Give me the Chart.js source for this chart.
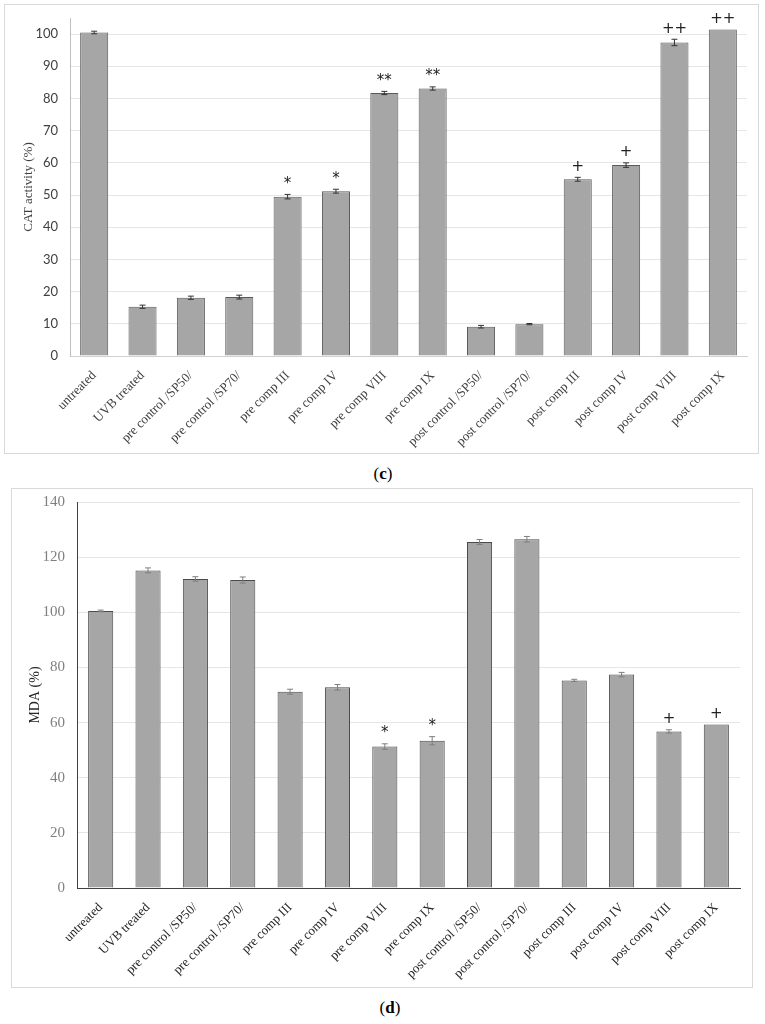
<!DOCTYPE html>
<html>
<head>
<meta charset="utf-8">
<script src="https://cdn.jsdelivr.net/npm/chart.js@4.4.0/dist/chart.umd.min.js"></script>
<style>
  body { margin: 0; background: #fff; width: 765px; height: 1024px; position: relative; }
  .panel { position: absolute; border: 1px solid #D9D9D9; box-sizing: border-box; }
  .panel canvas { position: absolute; left: 0; top: 0; }
  .cap { position: absolute; font-family: "Liberation Serif", "Times New Roman", serif; font-size: 17px; color: #000; transform: translateX(-50%); }
</style>
</head>
<body>
<div class="panel" style="left:4px; top:4px; width:755px; height:450px;">
  <canvas id="cat" width="753" height="448" style="width:753px;height:448px"></canvas>
</div>
<div class="cap" style="left:383px; top:464px;">(<b>c</b>)</div>
<div class="panel" style="left:11px; top:488px; width:742px; height:500px;">
  <canvas id="mda" width="740" height="498" style="width:740px;height:498px"></canvas>
</div>
<div class="cap" style="left:390px; top:998px;">(<b>d</b>)</div>
<script>
const categories = [
  "untreated", "UVB treated", "pre control /SP50/", "pre control /SP70/",
  "pre comp III", "pre comp IV", "pre comp VIII", "pre comp IX",
  "post control /SP50/", "post control /SP70/", "post comp III", "post comp IV",
  "post comp VIII", "post comp IX"
];

// CAT activity (%)
const catValues = [100.5, 15.3, 18.1, 18.3, 49.5, 51.2, 81.7, 83.1, 9.1, 9.9, 54.9, 59.3, 97.4, 101.4];
const catErrors = [0.4, 0.5, 0.5, 0.6, 0.7, 0.6, 0.5, 0.5, 0.4, 0.2, 0.6, 0.7, 1.0, 0];
const catMarks = ["", "", "", "", "*", "*", "**", "**", "", "", "+", "+", "++", "++"];

// MDA (%)
const mdaValues = [100.5, 115.2, 112.1, 111.7, 71.2, 72.8, 51.3, 53.4, 125.5, 126.5, 75.3, 77.4, 56.8, 59.3];
const mdaErrors = [0.3, 0.9, 0.8, 1.1, 0.9, 1.0, 1.0, 1.5, 0.9, 1.0, 0.4, 0.8, 0.6, 0];
const mdaMarks = ["", "", "", "", "", "", "*", "*", "", "", "", "", "+", "+"];

const serif = "'Liberation Serif', 'Times New Roman', serif";

// error bars + significance marks
const errorBars = {
  id: "errorBars",
  afterDatasetsDraw(chart, args, opts) {
    const ctx = chart.ctx;
    const meta = chart.getDatasetMeta(0);
    const y = chart.scales.y;
    ctx.save();
    meta.data.forEach((bar, i) => {
      const v = opts.values[i], e = opts.errors[i];
      const top = y.getPixelForValue(v + e);
      if (e > 0) {
        const bot = y.getPixelForValue(v - e);
        ctx.strokeStyle = opts.color;
        ctx.lineWidth = 1;
        ctx.beginPath();
        ctx.moveTo(bar.x, top); ctx.lineTo(bar.x, bot);
        ctx.moveTo(bar.x - 3, top); ctx.lineTo(bar.x + 3, top);
        ctx.moveTo(bar.x - 3, bot); ctx.lineTo(bar.x + 3, bot);
        ctx.stroke();
      }
      if (opts.marks[i]) {
        ctx.fillStyle = "#222";
        ctx.font = opts.markFont;
        ctx.textAlign = "center";
        ctx.textBaseline = "bottom";
        ctx.fillText(opts.marks[i], bar.x, Math.min(top, y.getPixelForValue(v)) - 3);
      }
    });
    ctx.restore();
  }
};

// fixed y axis width, no extra padding from tick labels
const fitY = (s) => { s.width = 65; s.paddingTop = 0; s.paddingBottom = 0; };

new Chart(document.getElementById("cat"), {
  type: "bar",
  data: {
    labels: categories,
    datasets: [{
      data: catValues,
      backgroundColor: "#A6A6A6",
      borderColor: "#5A5A5A",
      borderWidth: 1,
      barPercentage: 0.58,
      categoryPercentage: 1
    }]
  },
  options: {
    responsive: false,
    animation: false,
    layout: { padding: { left: 0, top: 13, right: 11, bottom: 0 } },
    plugins: {
      legend: { display: false },
      tooltip: { enabled: false },
      errorBars: { values: catValues, errors: catErrors, marks: catMarks, color: "#333", markFont: "15px 'DejaVu Sans'" }
    },
    scales: {
      x: {
        afterFit: (s) => { s.height = 97; },
        grid: { display: false },
        border: { display: true, color: "#D0D0D0" },
        ticks: {
          minRotation: 45, maxRotation: 45, autoSkip: false, padding: 4,
          color: "#404040",
          font: { family: serif, size: 13 }
        }
      },
      y: {
        min: 0, max: 105,
        afterFit: fitY,
        grid: { color: "#E6E6E6", drawTicks: false },
        border: { display: true, color: "#BFBFBF" },
        ticks: {
          stepSize: 10, includeBounds: false, padding: 12,
          color: "#404040",
          font: { family: "Lato, 'Open Sans', sans-serif", size: 13 }
        },
        title: {
          display: true, text: "CAT activity (%)", color: "#404040",
          font: { family: serif, size: 13 },
          padding: { top: 16, bottom: 0 }
        }
      }
    }
  },
  plugins: [errorBars]
});

new Chart(document.getElementById("mda"), {
  type: "bar",
  data: {
    labels: categories,
    datasets: [{
      data: mdaValues,
      backgroundColor: "#A6A6A6",
      borderColor: "#4A4A4A",
      borderWidth: 1,
      barPercentage: 0.53,
      categoryPercentage: 1
    }]
  },
  options: {
    responsive: false,
    animation: false,
    layout: { padding: { left: 0, top: 13, right: 12, bottom: 0 } },
    plugins: {
      legend: { display: false },
      tooltip: { enabled: false },
      errorBars: { values: mdaValues, errors: mdaErrors, marks: mdaMarks, color: "#7F7F7F", markFont: "15px 'DejaVu Sans'" }
    },
    scales: {
      x: {
        afterFit: (s) => { s.height = 99; },
        grid: { display: false },
        border: { display: true, color: "#404040" },
        ticks: {
          minRotation: 45, maxRotation: 45, autoSkip: false, padding: 4,
          color: "#262626",
          font: { family: serif, size: 13 }
        }
      },
      y: {
        min: 0, max: 140,
        afterFit: fitY,
        grid: { color: "#E6E6E6", drawTicks: false },
        border: { display: true, color: "#404040" },
        ticks: {
          stepSize: 20, padding: 12,
          color: "#7F7F7F",
          font: { family: serif, size: 15 }
        },
        title: {
          display: true, text: "MDA (%)", color: "#262626",
          font: { family: serif, size: 14 },
          padding: { top: 15, bottom: 0 }
        }
      }
    }
  },
  plugins: [errorBars]
});
</script>
</body>
</html>
